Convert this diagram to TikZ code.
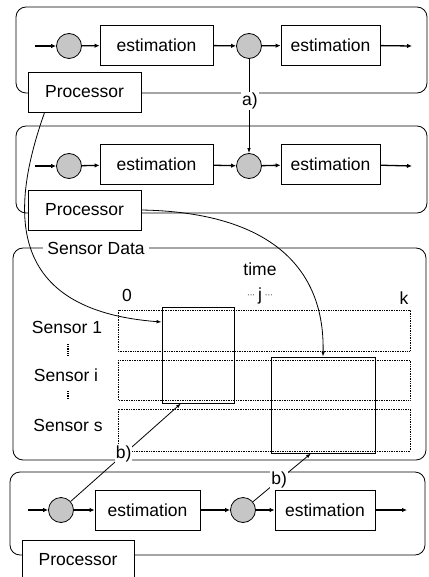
\documentclass[tikz,border=0pt]{standalone}
\usepackage{fontspec}
\setmainfont{Liberation Sans}
\usetikzlibrary{positioning,arrows.meta,calc}

\begin{document}
\begin{tikzpicture}[
  x=1pt, y=-1pt,
  font=\fontsize{17.5}{20}\selectfont,
  panel/.style={draw, rounded corners=10pt, line width=0.8pt},
  est/.style={draw, fill=white, line width=0.8pt, minimum height=40pt,
              inner sep=0pt},
  proc/.style={draw, fill=white, line width=0.8pt, minimum width=113pt,
               minimum height=40pt, inner sep=0pt},
  sum/.style={circle, draw, fill=gray!45, line width=0.8pt,
              minimum size=25pt, inner sep=0pt},
  row/.style={draw, densely dotted, line width=0.7pt},
  win/.style={draw, line width=0.8pt},
  lbl/.style={fill=white, inner sep=1pt},
  flow/.style={-{Latex[length=5pt,width=4.5pt]}, line width=1.3pt},
  link/.style={-{Latex[length=5pt,width=3.5pt]}, line width=0.8pt}
]
\useasboundingbox (0,0) rectangle (428,577);

% processor 1
\draw[panel] (16,7) rectangle (427,93);
\node[proc] (proc1) at (84.5,92) {Processor};
\coordinate (in1) at (35,46);
\node[sum] (s11) at (69,46) {};
\node[est, minimum width=113pt] (e11) at (156.5,45) {estimation};
\node[sum] (s12) at (249,46) {};
\node[est, minimum width=99pt] (e12) at (330.5,45) {estimation};
\coordinate (out1) at (412,46);
\draw[flow] (in1) -- (s11);
\draw[flow] (s11) -- (e11);
\draw[flow] (e11) -- (s12);
\draw[flow] (s12) -- (e12);
\draw[flow] (e12) -- (out1);

% processor 2
\draw[panel] (16,126) rectangle (427,213);
\node[proc] (proc2) at (84.5,210) {Processor};
\coordinate (in2) at (35,166);
\node[sum] (s21) at (69,166) {};
\node[est, minimum width=113pt] (e21) at (156.5,164) {estimation};
\node[sum] (s22) at (249,166) {};
\node[est, minimum width=99pt] (e22) at (330.5,164) {estimation};
\coordinate (out2) at (412,166);
\draw[flow] (in2) -- (s21);
\draw[flow] (s21) -- (e21);
\draw[flow] (e21) -- (s22);
\draw[flow] (s22) -- (e22);
\draw[flow] (e22) -- (out2);

% a)
\draw[link] (s12) -- (s22);
\node[lbl] (a) at (250,101) {a)};

% sensor data
\draw[panel] (13,248) rectangle (426,460);
\node[lbl, inner sep=4pt] (sdata) at (96,248) {Sensor Data};
\node (time) at (260,269) {time};
\node (t0) at (127,295) {0};
\node (tj) at (260,296) {\raisebox{0.35ex}{\footnotesize ···}\,j\,\raisebox{0.35ex}{\footnotesize ···}};
\node (tk) at (404,298) {k};
\draw[row] (118,310) rectangle (410,351);
\draw[row] (118,360) rectangle (410,400);
\draw[row] (118,409) rectangle (410,451);
\node (sen1) at (67,327) {Sensor 1};
\node (seni) at (66,375) {Sensor i};
\node (sens) at (68,425) {Sensor s};
\draw[densely dotted, line width=1.2pt] (68,344) -- (68,357);
\draw[densely dotted, line width=1.2pt] (68,391) -- (68,399);
\node[win, minimum width=72pt, minimum height=96pt] (w1) at (198,355) {};
\node[win, minimum width=104pt, minimum height=96pt] (w2) at (323,405) {};

% processor 3
\draw[panel] (10,472) rectangle (425,555);
\node[proc, minimum width=112pt] (proc3) at (78,560) {Processor};
\coordinate (in3) at (28,510);
\node[sum] (s31) at (61,510) {};
\node[est, minimum width=105pt] (e31) at (147.5,510) {estimation};
\node[sum] (s32) at (243,510) {};
\node[est, minimum width=100pt] (e32) at (325,510) {estimation};
\coordinate (out3) at (407,510);
\draw[flow] (in3) -- (s31);
\draw[flow] (s31) -- (e31);
\draw[flow] (e31) -- (s32);
\draw[flow] (s32) -- (e32);
\draw[flow] (e32) -- (out3);

% processors to data
\draw[link] (proc1.south west) ++(17,0) .. controls (10,210) and (5,310) .. (w1.west |- 0,322);
\draw[link] (proc2.east) .. controls (260,212) and (325,260) .. (w2.north);
\draw[link] (s31) -- (w1.south -| 181,0) node[lbl, pos=0.48] (b1) {b)};
\draw[link] (s32) -- (w2.south -| 311,0) node[lbl, pos=0.45] (b2) {b)};
\end{tikzpicture}
\end{document}
